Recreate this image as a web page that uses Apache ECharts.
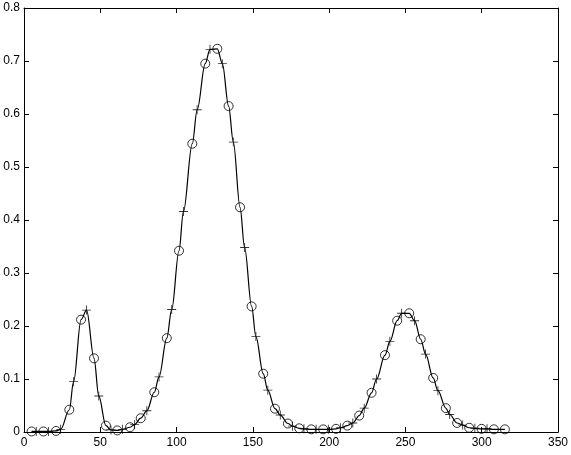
<!DOCTYPE html>
<html>
<head>
<meta charset="utf-8">
<script src="https://cdn.jsdelivr.net/npm/echarts@6/dist/echarts.min.js"></script>
<style>
  html, body { margin: 0; padding: 0; background: #fff; }
  #box { width: 571px; height: 455px; }
</style>
</head>
<body>
<div id="box"></div>
<script>
// sample points marked with circles
const circleX = [5.0, 12.7, 21.0, 29.7, 37.4, 45.9, 53.7, 61.1, 69.5, 76.5, 85.4, 93.6, 101.6, 110.3, 118.8, 126.7, 134.1, 141.6, 149.2, 156.8, 164.5, 173.0, 180.4, 188.3, 196.1, 204.5, 211.9, 219.7, 227.8, 236.6, 244.6, 252.5, 260.0, 268.2, 276.5, 283.9, 291.8, 299.9, 308.0, 315.2]
const circleY = [0.001, 0.001, 0.002, 0.042, 0.212, 0.139, 0.012, 0.003, 0.009, 0.026, 0.075, 0.177, 0.342, 0.544, 0.695, 0.723, 0.615, 0.424, 0.237, 0.110, 0.044, 0.016, 0.007, 0.005, 0.005, 0.006, 0.012, 0.031, 0.074, 0.145, 0.210, 0.224, 0.175, 0.102, 0.045, 0.017, 0.008, 0.006, 0.005, 0.005]
// sample points marked with plus signs
const plusX = [8, 16, 24, 32.5, 41, 49, 57, 64.5, 72.5, 80.5, 88.5, 96.8, 104.5, 113.5, 121.9, 130, 137.2, 144.6, 152, 159.8, 168, 176, 183.5, 191.5, 199.5, 207.5, 215.5, 223, 231.1, 239.8, 247.5, 256, 263.2, 271.3, 279, 287.5, 295.5, 303.5]
const plusY = [0.001, 0.001, 0.005, 0.095, 0.230, 0.068, 0.004, 0.005, 0.014, 0.040, 0.104, 0.231, 0.416, 0.608, 0.722, 0.695, 0.547, 0.348, 0.180, 0.079, 0.032, 0.011, 0.006, 0.005, 0.005, 0.008, 0.017, 0.045, 0.100, 0.171, 0.224, 0.210, 0.147, 0.078, 0.033, 0.013, 0.007, 0.006]
const xTicks = [0, 350, 50]
const yTicks = [0, 0.8, 0.1]

const circles = circleX.map((x, i) => [x, circleY[i]])
const pluses = plusX.map((x, i) => [x, plusY[i]])
// the curve runs through all samples
const curve = circles.concat(pluses).sort((a, b) => a[0] - b[0])

const plusPath = 'path://M4.5,0h1v4.5h4.5v1h-4.5v4.5h-1v-4.5h-4.5v-1h4.5z'
const font = 'Liberation Sans'
const axisLine = { show: true, onZero: false, lineStyle: { color: '#000', width: 1 } }
const tick = { show: true, inside: true, length: 5, lineStyle: { color: '#000' } }

const chart = echarts.init(document.getElementById('box'))
chart.setOption({
  animation: false,
  backgroundColor: '#fff',
  grid: { left: 24, right: 13, top: 8, bottom: 23, containLabel: false },
  xAxis: [
    {
      type: 'value', min: xTicks[0], max: xTicks[1], interval: xTicks[2], position: 'bottom',
      axisLine, axisTick: tick, splitLine: { show: false },
      axisLabel: { color: '#000', fontFamily: font, fontSize: 12, margin: 5 }
    },
    {
      type: 'value', min: xTicks[0], max: xTicks[1], interval: xTicks[2], position: 'top',
      axisLine, axisTick: tick, splitLine: { show: false }, axisLabel: { show: false }
    }
  ],
  yAxis: [
    {
      type: 'value', min: yTicks[0], max: yTicks[1], interval: yTicks[2], position: 'left',
      axisLine, axisTick: tick, splitLine: { show: false },
      axisLabel: {
        color: '#000', fontFamily: font, fontSize: 12, margin: 4,
        formatter: v => (v === 0 ? '0' : v.toFixed(1))
      }
    },
    {
      type: 'value', min: yTicks[0], max: yTicks[1], interval: yTicks[2], position: 'right',
      axisLine, axisTick: tick, splitLine: { show: false }, axisLabel: { show: false }
    }
  ],
  series: [
    {
      type: 'line', data: curve, smooth: 0.35, smoothMonotone: 'x', showSymbol: false,
      lineStyle: { color: '#000', width: 1.2 }, z: 2
    },
    {
      type: 'scatter', data: circles, symbol: 'circle', symbolSize: 9,
      itemStyle: { color: 'rgba(0,0,0,0)', borderColor: '#000', borderWidth: 1 }, z: 3
    },
    {
      type: 'scatter', data: pluses, symbol: plusPath, symbolSize: 9,
      itemStyle: { color: '#000' }, z: 3
    }
  ]
})
</script>
</body>
</html>
